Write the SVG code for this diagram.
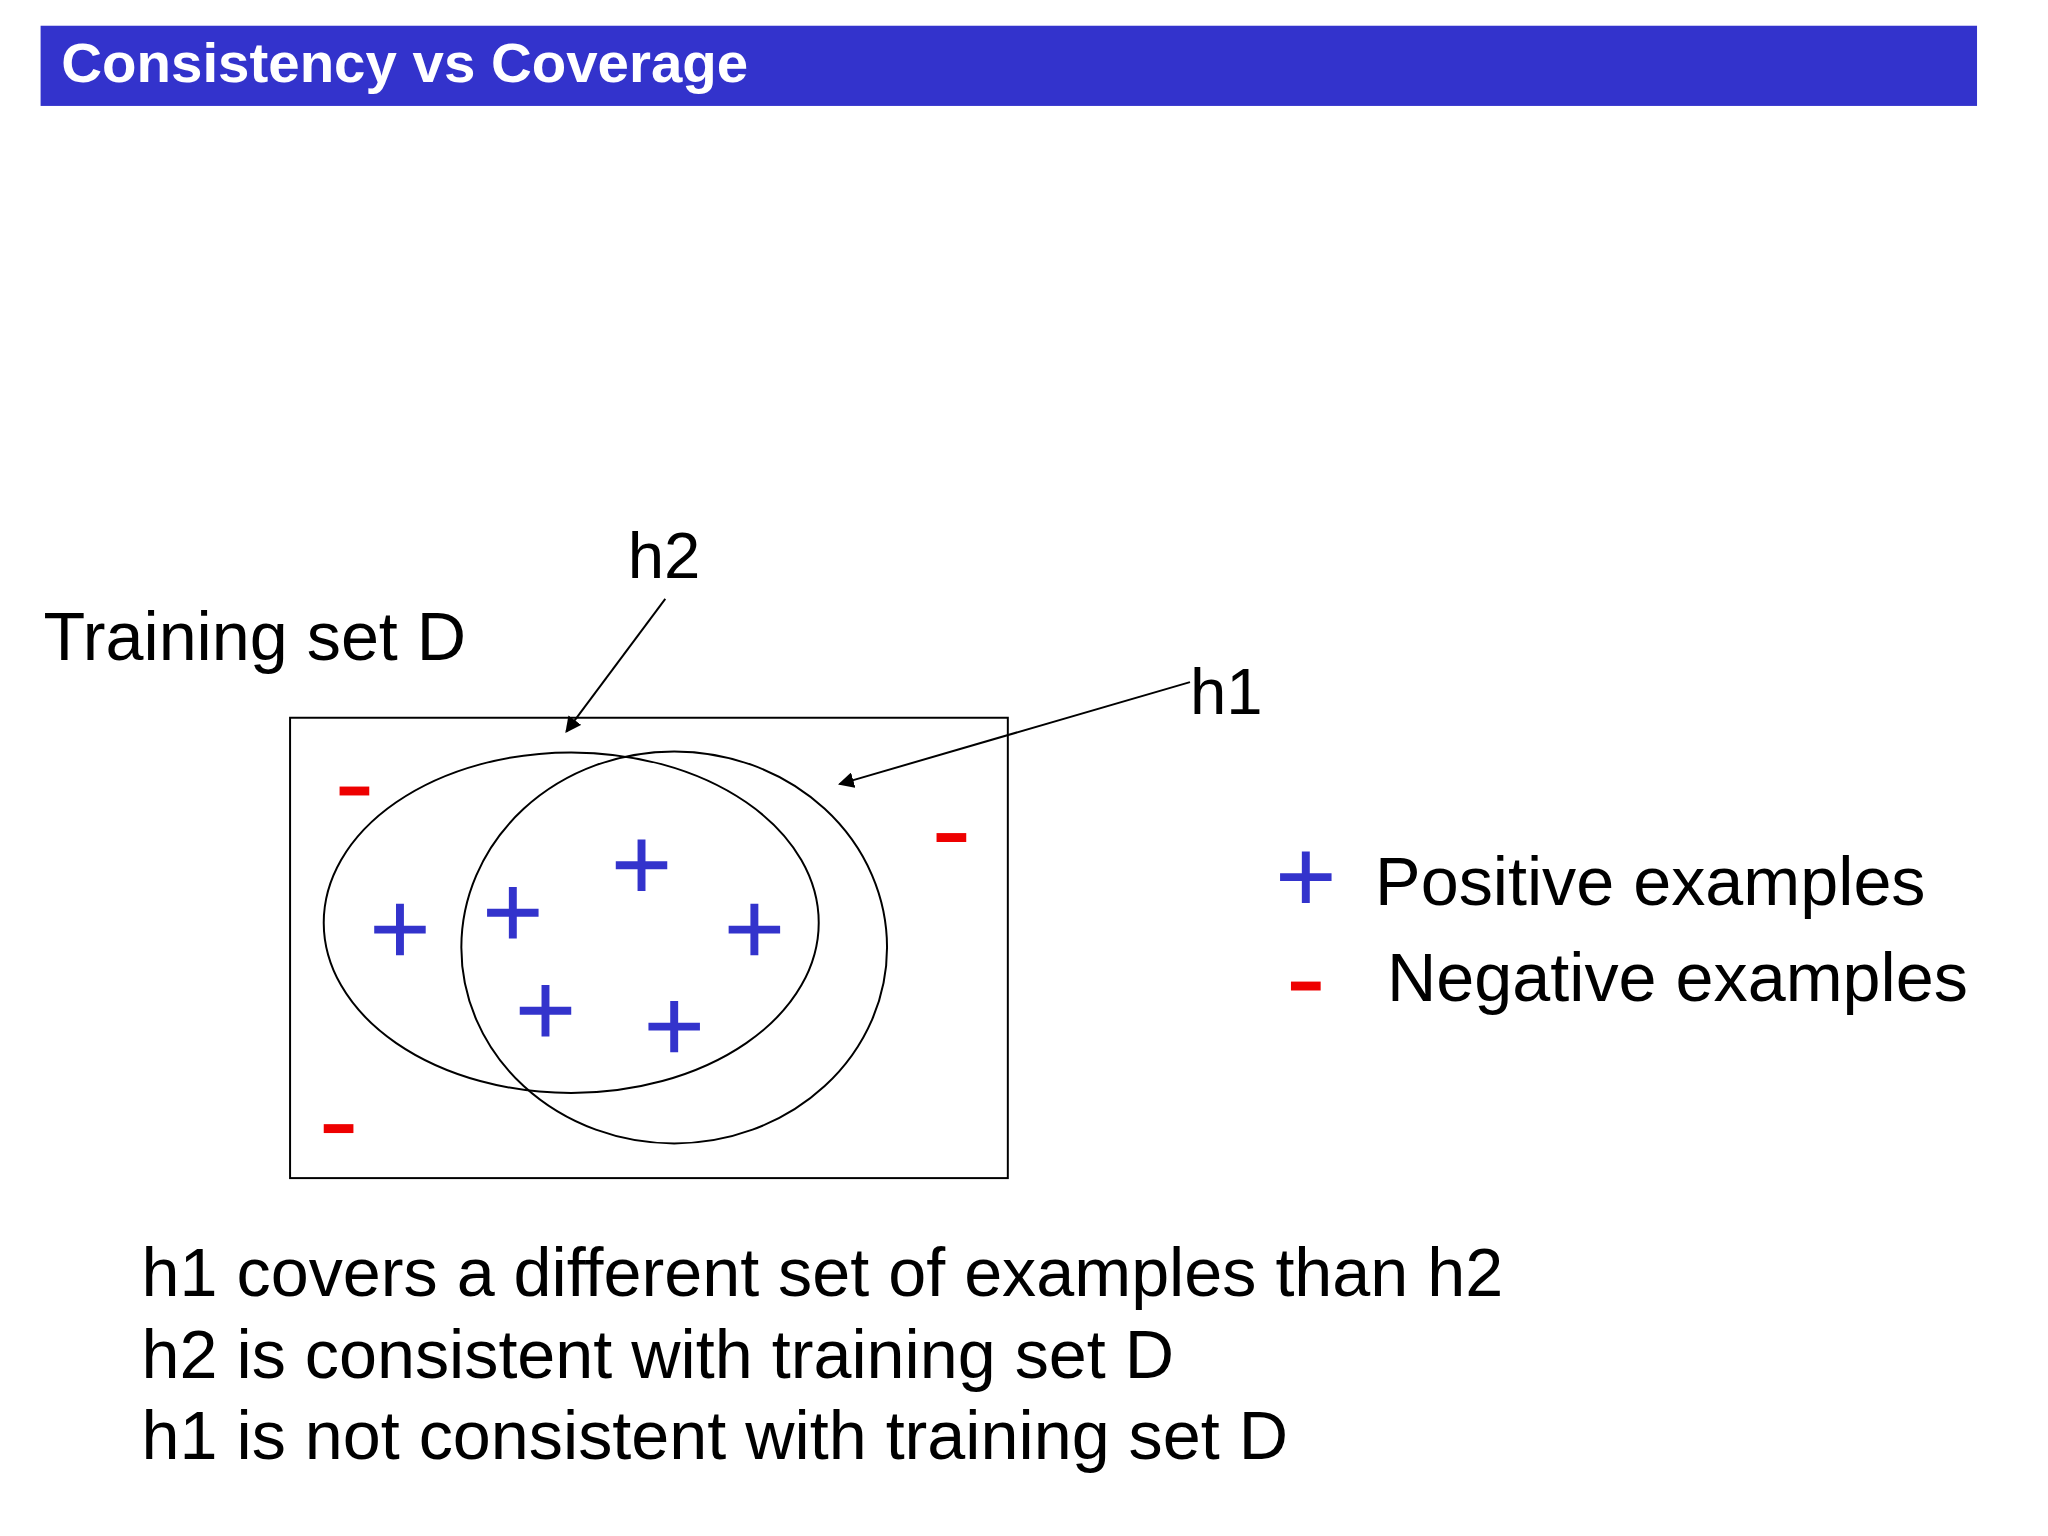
<svg xmlns="http://www.w3.org/2000/svg" width="2048" height="1536" viewBox="0 0 2048 1536">
<defs>
<style>
.t{font-family:"Liberation Sans",Arial,sans-serif;fill:#000}
.p{stroke:#3333cc;stroke-width:8;fill:none}
.m{stroke:#ee0000;stroke-width:9}
.l{stroke:#000;stroke-width:2;fill:none}
</style>
<marker id="ah" viewBox="0 0 10 10" refX="9" refY="5" markerWidth="8" markerHeight="8" orient="auto"><path d="M0,0 L10,5 L0,10 z" fill="#000"/></marker>
<g id="plus"><path class="p" d="M-26,0 H26 M0,-26 V26"/></g>
<g id="minus"><path class="m" d="M-15,0 H15"/></g>
</defs>
<rect width="2048" height="1536" fill="#fff"/>
<g transform="scale(0.99)">
<g id="header"><rect x="41" y="26" width="1956" height="81" fill="#3333cc"/>
<text x="62" y="83" font-family="Liberation Sans,Arial,sans-serif" font-weight="bold" font-size="57" fill="#fff">Consistency vs Coverage</text></g>
<g id="trainingset"><rect class="l" x="293" y="725" width="725" height="465"/>
<text class="t" x="44" y="667" font-size="69">Training set D</text></g>
<g id="h2"><ellipse class="l" cx="577" cy="932" rx="250" ry="172"/><text class="t" x="634" y="584" font-size="66">h2</text></g>
<g id="h1"><ellipse class="l" cx="681" cy="957" rx="215" ry="198"/><text class="t" x="1202" y="721" font-size="66">h1</text></g>
<g id="connectors">
<line class="l" x1="672" y1="605" x2="572" y2="739" marker-end="url(#ah)"/>
<line class="l" x1="1202" y1="689" x2="848" y2="792" marker-end="url(#ah)"/>
</g>
<g id="examples">
<use href="#plus" x="404" y="939"/><use href="#plus" x="518" y="922"/><use href="#plus" x="648" y="874"/>
<use href="#plus" x="762" y="939"/><use href="#plus" x="551" y="1021"/><use href="#plus" x="681" y="1037"/>
<use href="#minus" x="358" y="799"/><use href="#minus" x="961" y="846"/><use href="#minus" x="342" y="1140"/>
</g>
<g id="legend">
<use href="#plus" x="1319" y="886"/><text class="t" x="1389" y="914" font-size="69">Positive examples</text>
<use href="#minus" x="1319" y="996"/><text class="t" x="1401" y="1011" font-size="69">Negative examples</text>
</g>
<g id="notes">
<text class="t" x="143" y="1309" font-size="69">h1 covers a different set of examples than h2</text>
<text class="t" x="143" y="1392" font-size="69">h2 is consistent with training set D</text>
<text class="t" x="143" y="1474" font-size="69">h1 is not consistent with training set D</text>
</g>
</g>
</svg>
